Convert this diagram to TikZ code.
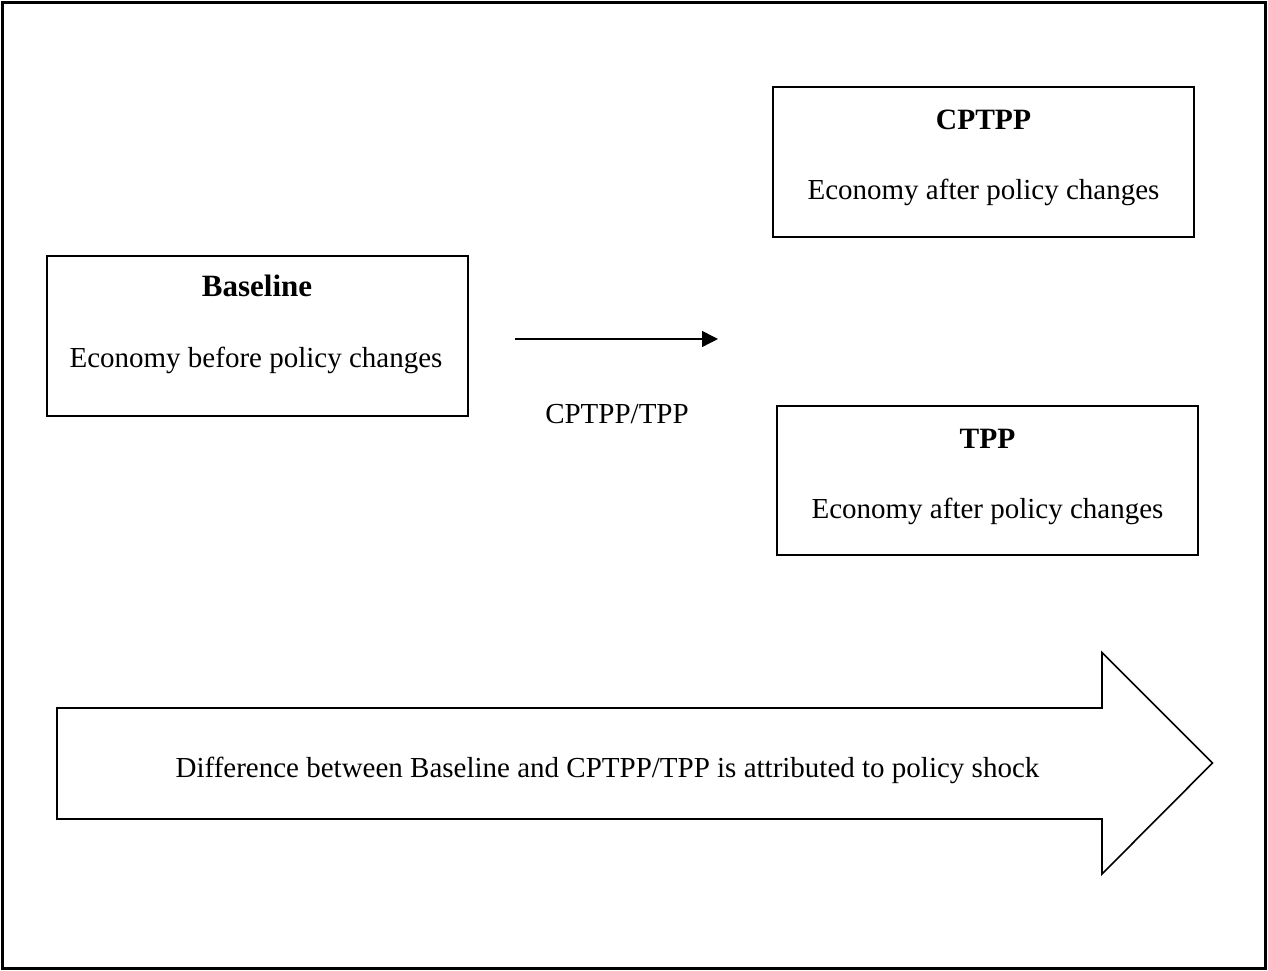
\documentclass[tikz,border=0pt]{standalone}
\usepackage{fontspec}
\setmainfont{Liberation Serif}
\usetikzlibrary{arrows.meta}
\begin{document}
\begin{tikzpicture}[x=1pt,y=1pt,
  panel/.style={draw=black,line width=1.6pt,rectangle,minimum width=421pt,inner sep=0pt},
  ttl/.style={font=\fontsize{29.5}{34}\selectfont\bfseries,anchor=base},
  txt/.style={font=\fontsize{29}{34}\selectfont,anchor=base},
  flow/.style={line width=1.4pt,-{Triangle[length=16pt,width=16pt]}}]
  % page area and outer frame
  \useasboundingbox (0,0) rectangle (1268,971);
  \draw[line width=2.6pt] (2.5,968.5) rectangle (1265.5,2.5);

  % scenario boxes
  \node[panel,minimum height=160pt] (base) at (257.5,635) {};
  \node[panel,minimum height=150pt] (cptpp) at (983.5,809) {};
  \node[panel,minimum height=149pt] (tpp) at (987.5,490.5) {};

  \node[ttl,font=\fontsize{31}{36}\selectfont\bfseries] (baseT) at (257,674) {Baseline};
  \node[txt] (baseD) at (256,603) {Economy before policy changes};
  \node[ttl] (cptppT) at (983.5,841) {CPTPP};
  \node[txt] (cptppD) at (983.5,771) {Economy after policy changes};
  \node[ttl] (tppT) at (987.5,522) {TPP};
  \node[txt] (tppD) at (987.5,452) {Economy after policy changes};

  % policy shock arrow
  \coordinate (shockS) at (515,632);
  \coordinate (shockE) at (718,632);
  \draw[flow] (shockS) -- (shockE);
  \node[txt] (shockL) at (617,547) {CPTPP/TPP};

  % block arrow along the bottom
  \draw[line width=1.6pt,line join=miter]
    (57,263) -- (1102,263) -- (1102,318.5) -- (1212.5,208) -- (1102,97)
    -- (1102,152) -- (57,152) -- cycle;
  \node[txt] (diff) at (607.5,193) {Difference between Baseline and CPTPP/TPP is attributed to policy shock};
\end{tikzpicture}
\end{document}
